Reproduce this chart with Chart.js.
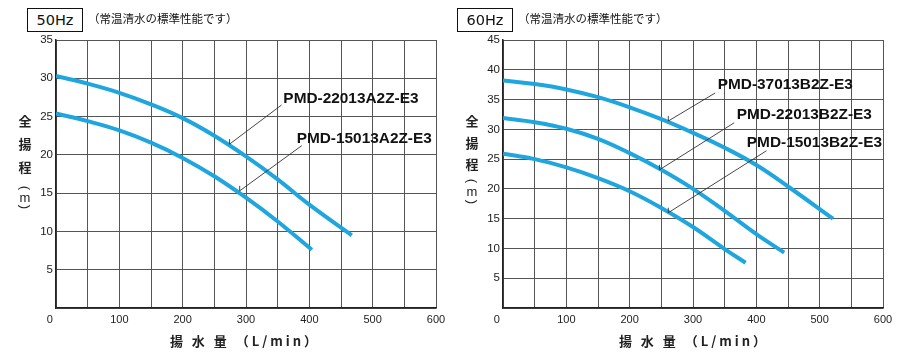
<!DOCTYPE html>
<html><head><meta charset="utf-8">
<script src="https://cdn.jsdelivr.net/npm/chart.js@4.4.1/dist/chart.umd.min.js"></script>
<style>
html,body{margin:0;padding:0;background:#fff}
body{width:904px;height:352px;position:relative;overflow:hidden}
canvas{position:absolute;top:0}
.hz{position:absolute;top:8px;width:54px;height:22px;border:1px solid #111;background:#fff;font:14.5px "DejaVu Sans",sans-serif;color:#111;text-align:center;line-height:23px}
.sub{position:absolute;top:11px;font:11.5px "Noto Sans CJK JP",sans-serif;color:#111;line-height:14px;white-space:nowrap}
.yc{position:absolute;font:bold 13px "Noto Sans CJK JP",sans-serif;color:#222;transform:translate(-50%,-50%);line-height:13px}
.yp{position:absolute;font:13px "Liberation Sans",sans-serif;color:#222;transform:translate(-50%,-50%) rotate(90deg);line-height:13px}
.xt{position:absolute;top:333px;font:bold 13px "Noto Sans CJK JP",sans-serif;color:#222;letter-spacing:3px;white-space:nowrap;transform:translateX(-50%);line-height:16px}
</style>
</head><body>
<canvas id="c50" width="452" height="352" style="left:0"></canvas>
<canvas id="c60" width="452" height="352" style="left:452px"></canvas>

<div class="hz" style="left:27px">50Hz</div>
<div class="sub" style="left:88px">（常温清水の標準性能です）</div>
<div class="hz" style="left:457px">60Hz</div>
<div class="sub" style="left:518px">（常温清水の標準性能です）</div>

<div class="yc" style="left:25px;top:120px">全</div>
<div class="yc" style="left:25px;top:143px">揚</div>
<div class="yc" style="left:25px;top:166px">程</div>
<div class="yp" style="left:25px;top:188px">(</div>
<div class="yc" style="left:25px;top:197px;font-weight:normal;font-family:'Liberation Sans'">m</div>
<div class="yp" style="left:25px;top:207px">)</div>

<div class="yc" style="left:472px;top:120px">全</div>
<div class="yc" style="left:472px;top:142px">揚</div>
<div class="yc" style="left:472px;top:163px">程</div>
<div class="yp" style="left:472px;top:181px">(</div>
<div class="yc" style="left:472px;top:191px;font-weight:normal;font-family:'Liberation Sans'">m</div>
<div class="yp" style="left:472px;top:202px">)</div>

<div class="xt" style="left:245px">揚 水 量 （L/min）</div>
<div class="xt" style="left:694px">揚 水 量 （L/min）</div>

<script>
// ---- 50Hz data ----
const flow_22013A2Z = [0, 50, 100, 150, 200, 250, 300, 350, 400, 467];
const head_22013A2Z = [30.3, 29.3, 28.1, 26.6, 24.8, 22.5, 19.8, 16.8, 13.5, 9.5];
const flow_15013A2Z = [0, 50, 100, 150, 200, 250, 300, 350, 404];
const head_15013A2Z = [25.4, 24.4, 23.2, 21.6, 19.6, 17.2, 14.4, 11.3, 7.6];

// ---- 60Hz data ----
const flow_37013B2Z = [0, 50, 100, 150, 200, 250, 300, 350, 400, 450, 521];
const head_37013B2Z = [38.2, 37.6, 36.7, 35.4, 33.7, 31.7, 29.4, 26.9, 24.0, 20.4, 15.0];
const flow_22013B2Z = [0, 50, 100, 150, 200, 250, 300, 350, 400, 444];
const head_22013B2Z = [31.9, 31.2, 30.1, 28.4, 26.0, 23.2, 20.0, 16.3, 12.4, 9.3];
const flow_15013B2Z = [0, 50, 100, 150, 200, 250, 300, 350, 383];
const head_15013B2Z = [25.9, 25.0, 23.6, 21.8, 19.6, 16.8, 13.6, 9.9, 7.6];

// axis ranges / ticks
const xMax = 600, xGridStep = 50, xLabelStep = 100;
const yMax50 = 35, yMax60 = 45, yStep = 5;

// annotation labels (data coordinates)
const labels50 = [
  {text: 'PMD-22013A2Z-E3', at: [359, 27.3], from: [356, 26.5], to: [274, 21.4]},
  {text: 'PMD-15013A2Z-E3', at: [380, 22.1], from: [388, 21.2], to: [290, 15.3]}
];
const labels60 = [
  {text: 'PMD-37013B2Z-E3', at: [339, 37.45], from: [335, 36.1], to: [261, 31.4]},
  {text: 'PMD-22013B2Z-E3', at: [369, 32.4], from: [365, 31.1], to: [247, 23.2]},
  {text: 'PMD-15013B2Z-E3', at: [385, 27.7], from: [416, 26.4], to: [261, 16.0]}
];

const CURVE = '#1fa6de';
const pts = (xs, ys) => xs.map((x, i) => ({x, y: ys[i]}));

const annotPlugin = {
  id: 'annot',
  afterDatasetsDraw(chart, args, opts) {
    const {ctx, scales: {x, y}} = chart;
    ctx.save();
    (opts.items || []).forEach(it => {
      const sx = x.getPixelForValue(it.from[0]), sy = y.getPixelForValue(it.from[1]);
      const ex = x.getPixelForValue(it.to[0]), ey = y.getPixelForValue(it.to[1]);
      ctx.strokeStyle = '#333';
      ctx.lineWidth = 0.9;
      ctx.beginPath();
      ctx.moveTo(sx, sy); ctx.lineTo(ex, ey); ctx.lineTo(ex, ey - 5);
      ctx.stroke();
      ctx.font = 'bold 15.4px "Liberation Sans", Arial, sans-serif';
      ctx.fillStyle = '#111';
      ctx.textAlign = 'left';
      ctx.textBaseline = 'middle';
      ctx.fillText(it.text, x.getPixelForValue(it.at[0]), y.getPixelForValue(it.at[1]));
    });
    ctx.restore();
  }
};

function makeChart(id, datasets, yMax, items, yWidth, padRight) {
  return new Chart(document.getElementById(id), {
    type: 'line',
    data: {
      datasets: datasets.map(d => ({
        data: d,
        borderColor: CURVE,
        borderWidth: 4,
        pointRadius: 0,
        fill: false,
        tension: 0.4,
        borderCapStyle: 'butt'
      }))
    },
    options: {
      responsive: false,
      animation: false,
      devicePixelRatio: 1,
      layout: {padding: {top: 40, right: padRight, bottom: 0, left: 0}},
      plugins: {legend: {display: false}, tooltip: {enabled: false}, annot: {items}},
      scales: {
        x: {
          type: 'linear', min: 0, max: xMax,
          grid: {color: '#555', lineWidth: 1, drawTicks: false},
          border: {color: '#222', width: 1.5},
          ticks: {
            stepSize: xGridStep, autoSkip: false, maxRotation: 0, padding: 5,
            color: '#222', font: {family: '"Liberation Sans", Arial, sans-serif', size: 11},
            callback: v => (v % xLabelStep === 0 ? (v === 0 ? '0    ' : String(v)) : '')
          },
          afterFit(s) { s.height = 44; }
        },
        y: {
          type: 'linear', min: 0, max: yMax,
          grid: {color: '#555', lineWidth: 1, drawTicks: false},
          border: {color: '#222', width: 1.5},
          ticks: {
            stepSize: yStep, padding: 3,
            color: '#222', font: {family: '"Liberation Sans", Arial, sans-serif', size: 11.5},
            callback: v => (v === 0 ? '' : String(v))
          },
          afterFit(s) { s.width = yWidth; }
        }
      }
    },
    plugins: [annotPlugin]
  });
}

makeChart('c50', [pts(flow_22013A2Z, head_22013A2Z), pts(flow_15013A2Z, head_15013A2Z)], yMax50, labels50, 56, 16);
makeChart('c60', [pts(flow_37013B2Z, head_37013B2Z), pts(flow_22013B2Z, head_22013B2Z), pts(flow_15013B2Z, head_15013B2Z)], yMax60, labels60, 51, 21);
</script>
</body></html>
